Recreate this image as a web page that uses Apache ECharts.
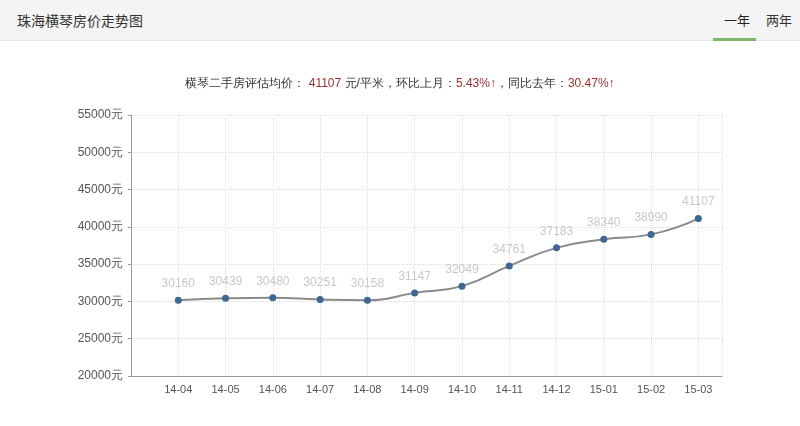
<!DOCTYPE html>
<html><head><meta charset="utf-8">
<script src="https://cdn.jsdelivr.net/npm/echarts@6/dist/echarts.min.js"></script>
<style>
html,body{margin:0;padding:0;background:#fff;font-family:"Noto Sans CJK SC",sans-serif;}
#hd{position:absolute;left:0;top:0;width:800px;height:40px;background:#f4f4f4;border-bottom:1px solid #e6e6e6;}
#t{position:absolute;left:17px;top:10px;font-size:14px;color:#333;}
#y1{position:absolute;left:724px;top:10px;font-size:13px;color:#222;}
#y2{position:absolute;left:766px;top:10px;font-size:13px;color:#333;}
#ul{position:absolute;left:713px;top:38px;width:43px;height:3px;background:#7cb96a;}
#c{position:absolute;left:0;top:0;width:800px;height:426px;}
</style></head><body>
<div id="c"></div>
<div id="hd"><span id="t">珠海横琴房价走势图</span><span id="y1">一年</span><span id="y2">两年</span><div id="ul"></div></div>
<script>
const categories=['14-04','14-05','14-06','14-07','14-08','14-09','14-10','14-11','14-12','15-01','15-02','15-03'];
const values=[30160,30439,30480,30251,30158,31147,32049,34761,37183,38340,38990,41107];
const yTicks=[20000,25000,30000,35000,40000,45000,50000,55000];
const chart=echarts.init(document.getElementById('c'));
chart.setOption({
 animation:false,
 title:{text:'{a|横琴二手房评估均价： }{b|41107 }{a|元/平米，环比上月：}{b|5.43%↑}{a|，同比去年：}{b|30.47%↑}',left:'center',top:73,
  textStyle:{fontWeight:'normal',rich:{a:{fontSize:12,color:'#333',fontWeight:'normal'},b:{fontSize:12,color:'#9b2f2f',fontWeight:'normal'}}}},
 grid:{left:131,right:78,top:115,bottom:50},
 xAxis:{type:'value',min:-1,max:11.5,interval:1,
  axisLine:{show:true,onZero:false,lineStyle:{color:'#999'}},axisTick:{show:false},
  axisLabel:{color:'#555',fontSize:11,formatter:v=>categories[v]||'',showMaxLabel:false},
  splitLine:{show:true,lineStyle:{color:'#ddd',type:'dotted'}}},
 yAxis:{type:'value',min:yTicks[0],max:yTicks[yTicks.length-1],interval:5000,
  axisLine:{show:true,onZero:false,lineStyle:{color:'#999'}},axisTick:{show:true,length:3},
  axisLabel:{color:'#555',fontSize:12,formatter:v=>v+'元'},
  splitLine:{lineStyle:{color:'#ddd',type:'dotted'}}},
 series:[{type:'line',smooth:true,data:values.map((v,i)=>[i,v]),symbol:'circle',symbolSize:7,
  lineStyle:{color:'#8a8a8a',width:2},itemStyle:{color:'#3f6794'},
  label:{show:true,position:'top',color:'#c8c8c8',fontSize:12,distance:7}}]
});
</script></body></html>
